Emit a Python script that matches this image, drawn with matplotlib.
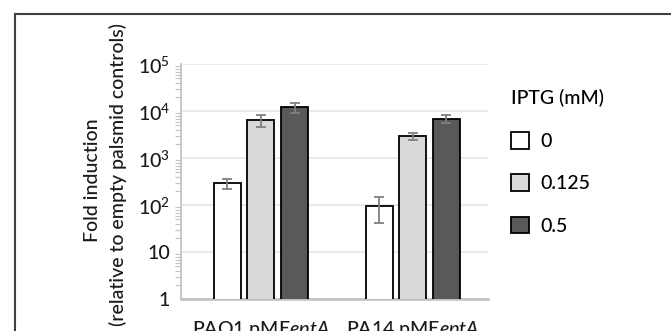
import numpy as np
import matplotlib.pyplot as plt
from matplotlib.patches import Patch
from matplotlib.lines import Line2D

plt.rcParams['font.family'] = ['Lato', 'DejaVu Sans']
plt.rcParams['font.weight'] = 'medium'
plt.rcParams['mathtext.fontset'] = 'custom'
plt.rcParams['mathtext.rm'] = 'Lato:medium'
plt.rcParams['mathtext.it'] = 'Lato:italic:medium'

strains = ["PAO1 pME$\\it{eptA}$", "PA14 pME$\\it{eptA}$"]
iptg_levels = ["0", "0.125", "0.5"]
fold_iptg0 = [295, 98]
fold_iptg0125 = [6500, 2980]
fold_iptg05 = [12200, 7000]
err_iptg0 = [70, 55]
err_iptg0125 = [1800, 480]
err_iptg05 = [3000, 1300]

colors = ["#ffffff", "#d9d9d9", "#595959"]
fs = 14

fig = plt.figure(figsize=(6.71, 3.31), dpi=100)
ax = fig.add_axes([181 / 671, 31.7 / 331, 307 / 671, 235 / 331])

x = np.arange(len(strains))
width = 0.178
step = 0.222
series = [(fold_iptg0, err_iptg0), (fold_iptg0125, err_iptg0125), (fold_iptg05, err_iptg05)]
for i, (vals, errs) in enumerate(series):
    ax.bar(x + (i - 1) * step, vals, width, color=colors[i], edgecolor="black",
           linewidth=1.3, zorder=3)
    ax.errorbar(x + (i - 1) * step, vals, yerr=errs, fmt="none", ecolor="#7f7f7f",
                elinewidth=1.3, capsize=3.6, capthick=1.3, zorder=4)

ax.set_yscale("log")
ax.set_ylim(1, 1e5)
ax.set_xlim(-0.527, 1.496)
ax.set_yticks([1, 10, 100, 1e3, 1e4, 1e5])
ax.set_yticklabels(["1", "10", "$10^{2}$", "$10^{3}$", "$10^{4}$", "$10^{5}$"])
ax.yaxis.grid(True, which="major", color="#e6e6e6", linewidth=1.2, zorder=0)
ax.set_axisbelow(True)
ax.tick_params(axis="y", which="major", length=0, pad=8, labelsize=fs, colors="#1a1a1a")
ax.tick_params(axis="y", which="minor", length=4, direction="out", color="#c4c4c4", width=0.8)
ax.set_xticks(x)
ax.set_xticklabels(strains)
ax.tick_params(axis="x", length=0, pad=14, labelsize=fs, colors="#1a1a1a")

for s in ["top", "right"]:
    ax.spines[s].set_visible(False)
ax.spines["left"].set_color("#bfbfbf")
ax.spines["left"].set_linewidth(1.2)
ax.spines["bottom"].set_color("#bfbfbf")
ax.spines["bottom"].set_linewidth(1.8)

fig.text(92 / 671, 1 - 180 / 331, "Fold induction", rotation=90, ha="center", va="center",
         fontsize=fs, color="#1a1a1a")
fig.text(118 / 671, 1 - 174 / 331, "(relative to empty palsmid controls)", rotation=90,
         ha="center", va="center", fontsize=fs, color="#1a1a1a")

handles = [Patch(facecolor=c, edgecolor="black", linewidth=1.3) for c in colors]
fig.legend(handles, iptg_levels, title="IPTG (mM)", loc="upper left",
           bbox_to_anchor=(495 / 671, 1 - 74 / 331), frameon=False, fontsize=fs,
           title_fontsize=fs, alignment="left", handlelength=0.95, handleheight=0.95,
           labelspacing=1.25, handletextpad=0.6, borderpad=0.3)

# outer frame of the panel (cut at right and bottom)
fig.add_artist(Line2D([15 / 671, 15 / 671], [0, 1 - 13.5 / 331], color="#404040",
                      linewidth=1.5, transform=fig.transFigure))
fig.add_artist(Line2D([15 / 671, 1], [1 - 13.5 / 331, 1 - 13.5 / 331], color="#404040",
                      linewidth=1.5, transform=fig.transFigure))

fig.savefig("out.png", dpi=100)
